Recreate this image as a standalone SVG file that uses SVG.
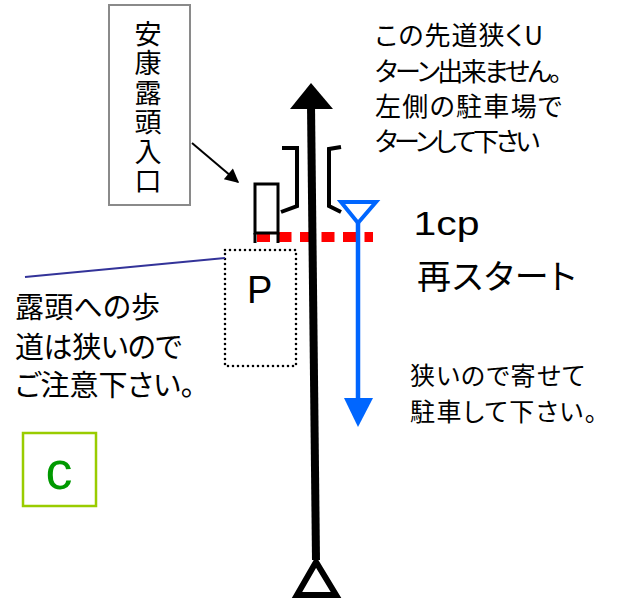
<svg xmlns="http://www.w3.org/2000/svg" width="617" height="605" viewBox="0 0 617 605">
<style>
.jp{font-family:"Noto Sans CJK JP","Noto Sans",sans-serif;fill:#000;font-feature-settings:"palt";}
.lat{font-family:"Liberation Sans",Arial,sans-serif;fill:#000;}
.blk{fill:none;stroke:#000;stroke-linejoin:miter;}
.blue{fill:none;stroke:#0066ff;}
.vert{font-family:"Noto Sans CJK JP",sans-serif;fill:#000;writing-mode:vertical-rl;letter-spacing:2.5px;}
</style>
<defs>
<marker id="ah" viewBox="0 0 10 10" refX="9" refY="5" markerWidth="9" markerHeight="7" markerUnits="strokeWidth" orient="auto">
<path d="M0,0 L10,5 L0,10 Z" fill="#000"/>
</marker>
</defs>
<rect width="617" height="605" fill="#fff"/>

<g id="entrance-label">
<rect x="109" y="5" width="81" height="200" fill="#fff" stroke="#8a8a8a" stroke-width="2"/>
<text class="vert" font-size="27" x="148" y="20">安康露頭入口</text>
</g>

<g id="uturn-note">
<text class="jp" font-size="26">
<tspan x="375" y="45" textLength="168" lengthAdjust="spacing">この先道狭くU</tspan>
<tspan x="375" y="81" textLength="187" lengthAdjust="spacing">ターン出来ません。</tspan>
<tspan x="375" y="116" textLength="187" lengthAdjust="spacing">左側の駐車場で</tspan>
<tspan x="375" y="151" textLength="165" lengthAdjust="spacing">ターンして下さい</tspan>
</text>
</g>

<g id="restart-label">
<text class="lat" font-size="33" x="413.5" y="235" textLength="66" lengthAdjust="spacingAndGlyphs">1cp</text>
<text class="jp" font-size="34" x="417" y="289" textLength="159" lengthAdjust="spacing">再スタート</text>
</g>

<g id="parking-note">
<text class="jp" font-size="25">
<tspan x="410" y="385" textLength="175" lengthAdjust="spacing">狭いので寄せて</tspan>
<tspan x="410" y="421" textLength="187" lengthAdjust="spacing">駐車して下さい。</tspan>
</text>
</g>

<g id="walk-note">
<text class="jp" font-size="29">
<tspan x="15" y="318" textLength="145" lengthAdjust="spacing">露頭への歩</tspan>
<tspan x="15" y="358" textLength="167" lengthAdjust="spacing">道は狭いので</tspan>
<tspan x="15" y="396" textLength="180" lengthAdjust="spacing">ご注意下さい。</tspan>
</text>
</g>

<g id="checkpoint-c">
<rect x="23" y="433" width="73" height="73" fill="#fff" stroke="#99cc00" stroke-width="2.5"/>
<text font-family="Liberation Sans,Arial,sans-serif" font-size="54" fill="#009900" x="59" y="489" text-anchor="middle">c</text>
</g>

<g id="parking-P">
<rect x="225" y="250" width="71" height="116" fill="none" stroke="#000" stroke-width="2.6" stroke-dasharray="0 5" stroke-linecap="round"/>
<text class="lat" font-size="38" x="247" y="303">P</text>
</g>

<g id="connectors">
<line x1="25" y1="277" x2="225" y2="258" stroke="#333399" stroke-width="2"/>
<line x1="192" y1="143" x2="238" y2="182" stroke="#000" stroke-width="2" marker-end="url(#ah)"/>
<line x1="257" y1="237" x2="373" y2="237" stroke="#ff0000" stroke-width="10" stroke-dasharray="13 8.5"/>
<g id="entrance-gate">
<rect x="255" y="184" width="23" height="49" class="blk" stroke-width="3"/>
<path d="M255,233 V243 M278,233 V243" class="blk" stroke-width="3"/>
</g>
<path d="M282,148 L297,148 L297,206 L281,212" class="blk" stroke-width="4"/>
<path d="M341,147 L329,149 L329,206 L341,212" class="blk" stroke-width="4"/>
<line x1="316" y1="560" x2="311" y2="105" stroke="#000" stroke-width="8"/>
<path d="M290,109 L333,109 L311,83 Z" fill="#000"/>
<path d="M316,562 L297,595 L336,595 Z" fill="#fff" stroke="#000" stroke-width="6"/>
<path d="M341,202 L376,202 L358,223 Z" class="blue" stroke-width="4"/>
<line x1="358" y1="223" x2="358" y2="400" stroke="#0066ff" stroke-width="4.5"/>
<path d="M344,398 L373,398 L358,427 Z" fill="#0066ff"/>
</g>
</svg>
